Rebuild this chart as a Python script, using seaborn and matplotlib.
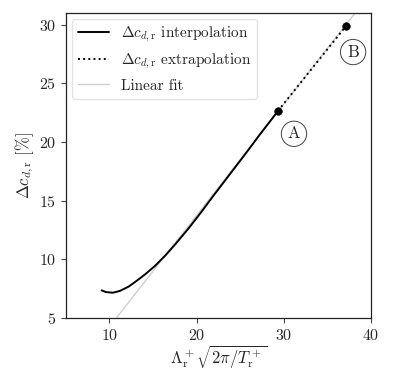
import numpy as np
import pandas as pd
import matplotlib
matplotlib.use("Agg")
import matplotlib.pyplot as plt
import seaborn as sns

# interpolated curve
interp_x = [9.1, 9.6, 10.4, 11.2, 12.2, 13.1, 14.1, 15.2, 16.4, 17.5, 18.7,
            19.1, 20.5, 21.9, 23.8, 25.8, 27.2, 28.5, 29.33]
interp_y = [7.35, 7.20, 7.15, 7.30, 7.67, 8.15, 8.72, 9.42, 10.32, 11.24, 12.3,
            12.66, 14.0, 15.4, 17.25, 19.2, 20.6, 21.85, 22.66]

# extrapolation from A to B
extrap_x = [29.33, 37.1]
extrap_y = [22.66, 29.87]

# linear fit
fit_slope = 0.95
fit_intercept = -5.26
fit_x = [5.0, 40.0]

point_labels = ["A", "B"]
point_x = [29.33, 37.1]
point_y = [22.66, 29.87]

sns.set_style("ticks")
plt.rcParams["font.family"] = "serif"
plt.rcParams["font.serif"] = ["cmr10", "DejaVu Serif"]
plt.rcParams["mathtext.fontset"] = "cm"
plt.rcParams["axes.formatter.use_mathtext"] = True
plt.rcParams["axes.unicode_minus"] = False

fig = plt.figure(figsize=(3.99, 3.74), dpi=100)
ax = fig.add_axes([0.165, 0.15, 0.765, 0.815])

fit_df = pd.DataFrame({"x": fit_x,
                       "y": [fit_slope * v + fit_intercept for v in fit_x]})
interp_df = pd.DataFrame({"x": interp_x, "y": interp_y})
extrap_df = pd.DataFrame({"x": extrap_x, "y": extrap_y})

sns.lineplot(data=interp_df, x="x", y="y", ax=ax, color="black", lw=1.4,
             label=r"$\Delta c_{d,\mathrm{r}}$ interpolation", zorder=3, sort=False)
sns.lineplot(data=extrap_df, x="x", y="y", ax=ax, color="black", lw=1.4,
             linestyle=":", label=r"$\Delta c_{d,\mathrm{r}}$ extrapolation", zorder=3)
sns.lineplot(data=fit_df, x="x", y="y", ax=ax, color="#cfcfcf", lw=1.0,
             label="Linear fit", zorder=2)
sns.scatterplot(x=point_x, y=point_y, ax=ax, color="black", s=30,
                edgecolor="black", zorder=4)

offsets = [(7, -11), (1, -13)]
for lab, px, py, off in zip(point_labels, point_x, point_y, offsets):
    ax.annotate(lab, (px, py), xytext=off, textcoords="offset points",
                ha="left", va="top", fontsize=12,
                bbox=dict(boxstyle="circle,pad=0.3", fc="white", ec="#444444", lw=0.7))

ax.set_xlim(5, 40)
ax.set_ylim(5, 31)
ax.set_xticks([10, 20, 30, 40])
ax.set_yticks([5, 10, 15, 20, 25, 30])
ax.set_xlabel(r"$\Lambda_\mathrm{r}^+\sqrt{2\pi/T_\mathrm{r}^+}$", fontsize=12, labelpad=1)
ax.set_ylabel(r"$\Delta c_{d,\mathrm{r}}$ [%]", fontsize=12, labelpad=2)
ax.tick_params(labelsize=11.5, length=3.5, width=0.8, color="#444444")
for s in ax.spines.values():
    s.set_linewidth(0.9)
    s.set_color("#222222")

ax.legend(loc="upper left", fontsize=11, frameon=True, edgecolor="#dddddd",
          fancybox=True, handlelength=2.0, borderaxespad=0.4)

fig.savefig("out.png", dpi=100)
